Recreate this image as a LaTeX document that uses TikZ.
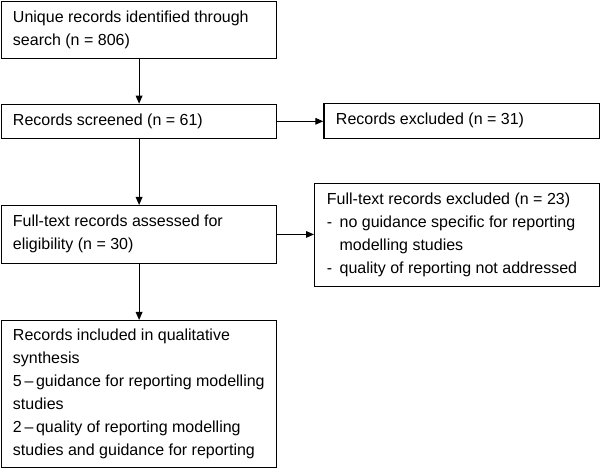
\documentclass[tikz,border=0pt]{standalone}
\usepackage{fontspec}
\setmainfont{Liberation Sans}
\usetikzlibrary{arrows.meta}
\begin{document}
\begin{tikzpicture}[x=0.75pt,y=-0.75pt,
  boxst/.style={draw=black,line width=0.9pt,rectangle,inner sep=0pt},
  txtst/.style={inner sep=0pt,align=left,font=\fontsize{12}{17.25}\selectfont},
  arr/.style={line width=0.8pt,-{Triangle[length=6pt,width=5pt]}}]
\useasboundingbox (0,0) rectangle (600,470);
% boxes
\node[boxst,anchor=north west,minimum width=275*0.75pt,minimum height=57*0.75pt] (b1) at (1,0.8) {};
\node[boxst,anchor=north west,minimum width=275*0.75pt,minimum height=34*0.75pt] (b2) at (1,103.7) {};
\node[boxst,anchor=north west,minimum width=275.2*0.75pt,minimum height=35*0.75pt] (b3) at (323.3,103.3) {};
\node[boxst,anchor=north west,minimum width=275*0.75pt,minimum height=57.7*0.75pt] (b4) at (1,205) {};
\node[boxst,anchor=north west,minimum width=284.5*0.75pt,minimum height=103.3*0.75pt] (b5) at (314,182.7) {};
\node[boxst,anchor=north west,minimum width=275*0.75pt,minimum height=146.7*0.75pt] (b6) at (1,320) {};
% texts
\node[txtst,anchor=north west] (t1) at (12.7,10.2) {Unique records identified through\\search (n = 806)};
\node[txtst,anchor=base west] (t2) at (12.7,125.7) {Records screened (n = 61)};
\node[txtst,anchor=base west] (t3) at (335.7,124.5) {Records excluded (n = 31)};
\node[txtst,anchor=north west] (t4) at (12.7,214.5) {Full-text records assessed for\\eligibility (n = 30)};
\node[txtst,anchor=north west] (t5) at (326.7,192.8) {Full-text records excluded (n = 23)\\\makebox[9.5pt][l]{-}no guidance specific for reporting\\\hspace*{9.5pt}modelling studies\\\makebox[9.5pt][l]{-}quality of reporting not addressed};
\node[txtst,anchor=north west] (t6) at (12.7,328.5) {Records included in qualitative\\synthesis\\5\,–\,guidance for reporting modelling\\studies\\2\,–\,quality of reporting modelling\\studies and guidance for reporting};
% connectors
\draw[arr] (b1.south) -- (b2.north);
\draw[arr] (b2.east) -- (b2.east -| b3.west);
\draw[arr] (b2.south) -- (b4.north);
\draw[arr] (b4.east) -- (b4.east -| b5.west);
\draw[arr] (b4.south) -- (b6.north);
\end{tikzpicture}
\end{document}
